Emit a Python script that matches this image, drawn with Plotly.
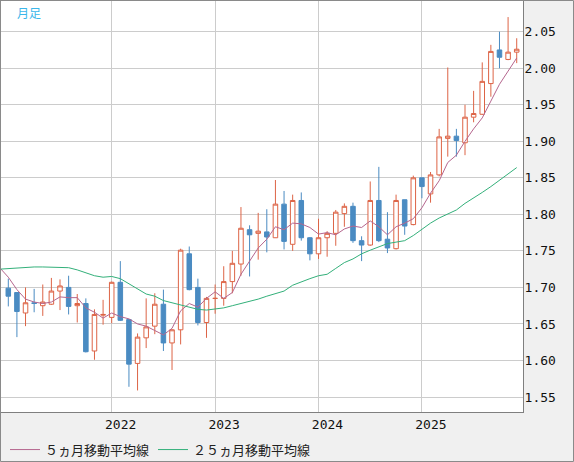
import plotly.graph_objects as go

# Monthly candles Jan 2021 .. Dec 2025 (index 0..59)
months = list(range(60))
opens = [1.699, 1.693, 1.665, 1.679, 1.675, 1.677, 1.695, 1.700, 1.675, 1.678,
         1.613, 1.662, 1.659, 1.707, 1.656, 1.596, 1.631, 1.647, 1.677, 1.624,
         1.642, 1.746, 1.700, 1.652, 1.685, 1.685, 1.708, 1.732, 1.779, 1.774,
         1.776, 1.768, 1.814, 1.759, 1.819, 1.768, 1.746, 1.768, 1.774, 1.801,
         1.811, 1.764, 1.758, 1.819, 1.766, 1.753, 1.820, 1.786, 1.850, 1.828,
         1.854, 1.904, 1.907, 1.898, 1.933, 1.937, 1.979, 2.025, 2.012, 2.022]
highs = [1.712, 1.693, 1.700, 1.698, 1.704, 1.713, 1.711, 1.716, 1.691, 1.685,
         1.670, 1.683, 1.708, 1.736, 1.656, 1.637, 1.685, 1.692, 1.697, 1.643,
         1.753, 1.756, 1.712, 1.687, 1.704, 1.729, 1.750, 1.810, 1.785, 1.802,
         1.807, 1.847, 1.832, 1.827, 1.830, 1.769, 1.794, 1.777, 1.806, 1.815,
         1.816, 1.770, 1.845, 1.865, 1.803, 1.827, 1.820, 1.853, 1.850, 1.858,
         1.917, 2.001, 1.917, 1.950, 1.969, 2.008, 2.032, 2.050, 2.070, 2.041]
lows = [1.674, 1.632, 1.647, 1.666, 1.661, 1.676, 1.669, 1.663, 1.652, 1.611,
        1.601, 1.649, 1.651, 1.654, 1.564, 1.559, 1.617, 1.636, 1.613, 1.587,
        1.622, 1.696, 1.648, 1.631, 1.664, 1.675, 1.692, 1.716, 1.715, 1.738,
        1.748, 1.768, 1.752, 1.750, 1.764, 1.737, 1.739, 1.742, 1.757, 1.783,
        1.761, 1.736, 1.757, 1.762, 1.747, 1.752, 1.772, 1.785, 1.822, 1.816,
        1.852, 1.879, 1.879, 1.881, 1.926, 1.936, 1.961, 2.000, 2.011, 2.007]
closes = [1.688, 1.667, 1.679, 1.678, 1.680, 1.695, 1.702, 1.674, 1.678, 1.612,
          1.663, 1.663, 1.707, 1.655, 1.595, 1.632, 1.646, 1.677, 1.624, 1.642,
          1.751, 1.697, 1.652, 1.685, 1.685, 1.708, 1.733, 1.781, 1.772, 1.777,
          1.769, 1.814, 1.763, 1.819, 1.768, 1.746, 1.768, 1.774, 1.803, 1.811,
          1.764, 1.758, 1.819, 1.764, 1.754, 1.819, 1.784, 1.850, 1.838, 1.854,
          1.906, 1.907, 1.901, 1.933, 1.938, 1.982, 2.023, 2.015, 2.022, 2.026]

# Moving averages, Dec 2020 .. Dec 2025 (index -1..59)
ma_months = list(range(-1, 60))
ma5 = [1.727, 1.714, 1.697, 1.684, 1.680, 1.678, 1.680, 1.687, 1.686, 1.686,
       1.672, 1.666, 1.658, 1.665, 1.660, 1.657, 1.650, 1.647, 1.641, 1.635,
       1.644, 1.668, 1.678, 1.673, 1.685, 1.694, 1.685, 1.693, 1.718, 1.736,
       1.754, 1.766, 1.783, 1.779, 1.788, 1.787, 1.782, 1.773, 1.775, 1.772,
       1.780, 1.784, 1.782, 1.791, 1.783, 1.772, 1.783, 1.788, 1.794, 1.809,
       1.829, 1.846, 1.871, 1.881, 1.900, 1.917, 1.932, 1.955, 1.978, 1.996,
       2.014]
ma25 = [1.725, 1.726, 1.726, 1.727, 1.728, 1.728, 1.728, 1.728, 1.727, 1.724,
        1.720, 1.716, 1.714, 1.715, 1.712, 1.705, 1.697, 1.691, 1.688, 1.682,
        1.679, 1.676, 1.673, 1.670, 1.669, 1.670, 1.672, 1.675, 1.678, 1.680,
        1.684, 1.688, 1.692, 1.695, 1.703, 1.708, 1.712, 1.716, 1.718, 1.726,
        1.734, 1.739, 1.746, 1.751, 1.755, 1.760, 1.762, 1.764, 1.771, 1.780,
        1.788, 1.795, 1.801, 1.806, 1.815, 1.822, 1.830, 1.838, 1.847, 1.856,
        1.864]

year_ticks = [12, 24, 36, 48]
year_labels = ["2022", "2023", "2024", "2025"]
price_ticks = [1.55, 1.60, 1.65, 1.70, 1.75, 1.80, 1.85, 1.90, 1.95, 2.00, 2.05]
price_labels = ["%.2f" % v for v in price_ticks]

UP = "#dd6446"
DOWN = "#4a8bc2"
C5 = "#b5668e"
C25 = "#33b07a"
GRID = "#cccccc"
MONO = "DejaVu Sans Mono, monospace"
JP = "Noto Sans CJK JP"

W, H = 574, 462
ML, MR, MT, MB = 1, 51, 1, 50
PW, PH = W - ML - MR, H - MT - MB

fig = go.Figure()
fig.add_trace(go.Candlestick(
    x=months, open=opens, high=highs, low=lows, close=closes,
    increasing=dict(line=dict(color=UP, width=1), fillcolor="white"),
    decreasing=dict(line=dict(color=DOWN, width=1), fillcolor=DOWN),
    whiskerwidth=0, showlegend=False, hoverinfo="skip",
))
fig.add_trace(go.Scatter(x=ma_months, y=ma5, mode="lines", legend="legend",
                         line=dict(color=C5, width=1), name="５ヵ月移動平均線"))
fig.add_trace(go.Scatter(x=ma_months, y=ma25, mode="lines", legend="legend2",
                         line=dict(color=C25, width=1), name="２５ヵ月移動平均線"))

leg_common = dict(orientation="h", xanchor="left", y=-0.055, yanchor="top",
                  bgcolor="rgba(0,0,0,0)", font=dict(family=JP, size=13, color="#222"),
                  itemwidth=30)

fig.update_layout(
    width=W, height=H,
    margin=dict(l=ML, r=MR, t=MT, b=MB, autoexpand=False),
    paper_bgcolor="#f0f0f0", plot_bgcolor="white",
    boxgap=0.25,
    showlegend=True,
    legend=dict(x=4 / PW, **leg_common),
    legend2=dict(x=152 / PW, **leg_common),
    xaxis=dict(range=[-0.847, 59.73], rangeslider=dict(visible=False),
               tickmode="array", tickvals=year_ticks, ticktext=year_labels,
               showgrid=True, gridcolor=GRID, gridwidth=1, zeroline=False,
               showline=True, mirror=True, linecolor="#7f7f7f", linewidth=1,
               ticks="", ticklabelshift=9, ticklabelstandoff=0,
               tickfont=dict(family=MONO, size=13, color="#111")),
    yaxis=dict(range=[1.5295, 2.092], side="right",
               tickmode="array", tickvals=price_ticks, ticktext=price_labels,
               showgrid=True, gridcolor=GRID, gridwidth=1, zeroline=False,
               showline=True, mirror=True, linecolor="#7f7f7f", linewidth=1,
               ticks="", ticklabelstandoff=-2,
               tickfont=dict(family=MONO, size=13, color="#111")),
    annotations=[dict(text="月足", x=(15 - ML) / PW, y=(PH + MT - 13) / PH,
                      xref="paper", yref="paper", xanchor="left", yanchor="middle",
                      showarrow=False, font=dict(family=JP, size=12, color="#3bb6ea"))],
    shapes=[dict(type="rect", xref="paper", yref="paper",
                 x0=(0.5 - ML) / PW, x1=(W - 0.5 - ML) / PW,
                 y0=(MT + PH - (H - 0.5)) / PH, y1=(MT + PH - 0.5) / PH,
                 line=dict(color="#8a8a8a", width=1), fillcolor="rgba(0,0,0,0)",
                 layer="above")],
)

fig.write_html("out.html", config={"displayModeBar": False},
               post_script="document.body.style.margin='0';document.body.style.padding='0';")
